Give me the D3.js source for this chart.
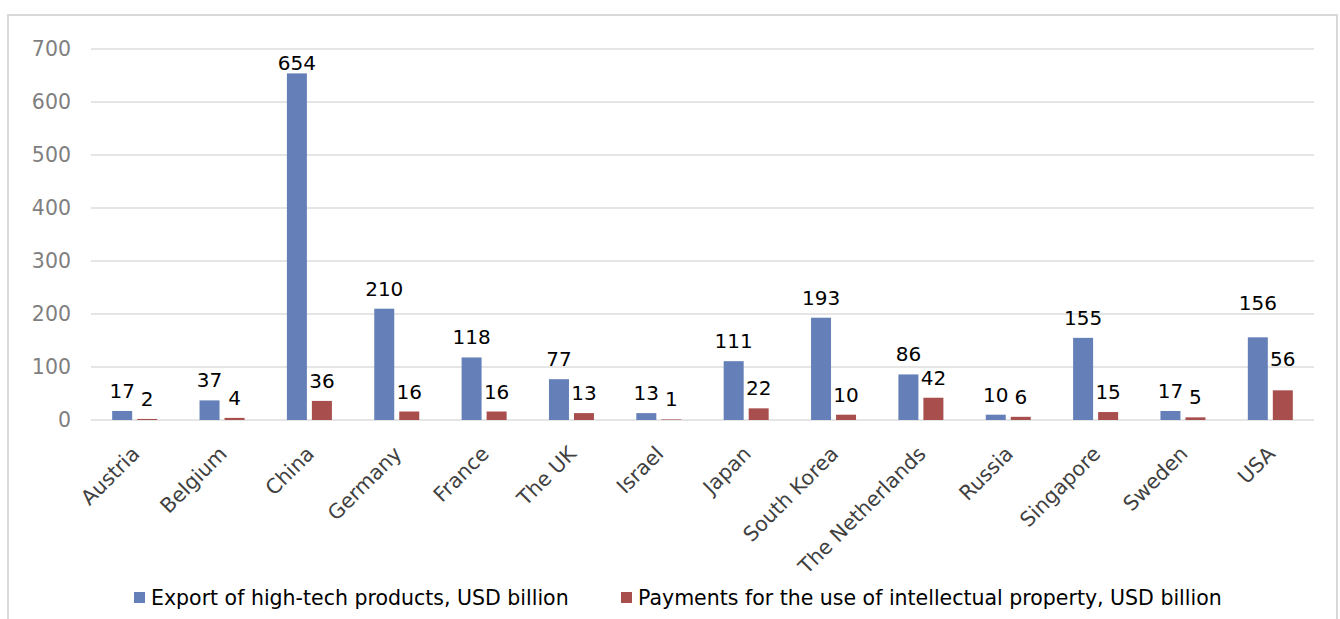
<!DOCTYPE html>
<html>
<head>
<meta charset="utf-8">
<script src="https://cdn.jsdelivr.net/npm/d3@7"></script>
<style>
  body { margin: 0; background: #fff; }
  svg { display: block; font-family: "DejaVu Sans", Verdana, sans-serif; }
</style>
</head>
<body>
<div class="chart"></div>
<script>
/* Exports vs IP payments chart */

var countries = ["Austria", "Belgium", "China", "Germany", "France", "The UK", "Israel",
    "Japan", "South Korea", "The Netherlands", "Russia", "Singapore", "Sweden", "USA"];
var exportHiTech = [17, 37, 654, 210, 118, 77, 13, 111, 193, 86, 10, 155, 17, 156];
var ipPayments = [2, 4, 36, 16, 16, 13, 1, 22, 10, 42, 6, 15, 5, 56];
var seriesNames = ["Export of high-tech products, USD billion",
    "Payments for the use of intellectual property, USD billion"];
var yTicks = [0, 100, 200, 300, 400, 500, 600, 700];

document.addEventListener("DOMContentLoaded", function () {
    var w = 1340, h = 619;
    var colors = ["#6580b8", "#a84f4e"];

    var svg = d3.select(".chart").append("svg")
        .attr("width", w)
        .attr("height", h);

    // outer frame
    svg.append("rect")
        .attr("x", 8).attr("y", 15)
        .attr("width", 1329).attr("height", 620)
        .attr("fill", "none")
        .attr("stroke", "#d9d9d9")
        .attr("stroke-width", 2);

    var x = d3.scaleBand()
        .domain(countries)
        .range([91, 1314]);

    var xInner = d3.scaleBand()
        .domain([0, 1])
        .range([-22.5, 22.5])
        .paddingInner(0.2);

    var y = d3.scaleLinear()
        .domain([0, 700])
        .range([420, 49]);

    // gridlines
    svg.append("g").selectAll("line")
        .data(yTicks)
        .enter().append("line")
        .attr("x1", 91).attr("x2", 1314)
        .attr("y1", function (d) { return y(d); })
        .attr("y2", function (d) { return y(d); })
        .attr("stroke", "#dcdcdc")
        .attr("stroke-width", 1.5);

    // y axis labels
    var yAxis = d3.axisLeft(y).tickValues(yTicks).tickSize(0).tickPadding(20);
    var gy = svg.append("g").attr("transform", "translate(91,0)").call(yAxis);
    gy.select(".domain").remove();
    gy.selectAll("text")
        .attr("font-size", "20.5px")
        .attr("font-family", "DejaVu Sans, Verdana, sans-serif")
        .attr("fill", "#7f7f7f");

    // bars
    var rows = countries.map(function (c, i) {
        return { c: c, v: [exportHiTech[i], ipPayments[i]] };
    });

    // a few labels were moved by hand in the original
    var nudge = { "USA": [14, 11] };

    var groups = svg.append("g").selectAll("g")
        .data(rows)
        .enter().append("g")
        .attr("transform", function (d) {
            return "translate(" + (x(d.c) + x.bandwidth() / 2) + ",0)";
        });

    groups.selectAll("rect")
        .data(function (d) { return d.v; })
        .enter().append("rect")
        .attr("x", function (d, i) { return xInner(i); })
        .attr("width", xInner.bandwidth())
        .attr("y", function (d) { return y(d); })
        .attr("height", function (d) { return y(0) - y(d); })
        .attr("fill", function (d, i) { return colors[i]; });

    groups.selectAll("text")
        .data(function (d) {
            return d.v.map(function (v, i) { return { v: v, i: i, c: d.c }; });
        })
        .enter().append("text")
        .attr("x", function (d) { return xInner(d.i) + xInner.bandwidth() / 2; })
        .attr("y", function (d) {
            var extra = nudge[d.c] ? nudge[d.c][d.i] : 0;
            return Math.max(y(d.v) - 13 - extra, 70);
        })
        .attr("text-anchor", "middle")
        .attr("font-size", "20px")
        .attr("fill", "#000")
        .text(function (d) { return d.v; });

    // x axis labels
    svg.append("g").selectAll("text")
        .data(countries)
        .enter().append("text")
        .attr("transform", function (d) {
            return "translate(" + (x(d) + x.bandwidth() / 2 + 1) + ",450) rotate(-45)";
        })
        .attr("text-anchor", "end")
        .attr("dy", "0.35em")
        .attr("font-size", "20.5px")
        .attr("fill", "#404040")
        .text(function (d) { return d; });

    // legend
    var legendX = [134, 621];
    var legend = svg.append("g").selectAll("g")
        .data(seriesNames)
        .enter().append("g")
        .attr("transform", function (d, i) { return "translate(" + legendX[i] + ",592)"; });
    legend.append("rect")
        .attr("width", 11).attr("height", 11)
        .attr("fill", function (d, i) { return colors[i]; });
    legend.append("text")
        .attr("x", 17).attr("y", 6)
        .attr("dy", "0.35em")
        .attr("font-size", "20.5px")
        .attr("fill", "#000")
        .text(function (d) { return d; });
});
</script>
</body>
</html>
